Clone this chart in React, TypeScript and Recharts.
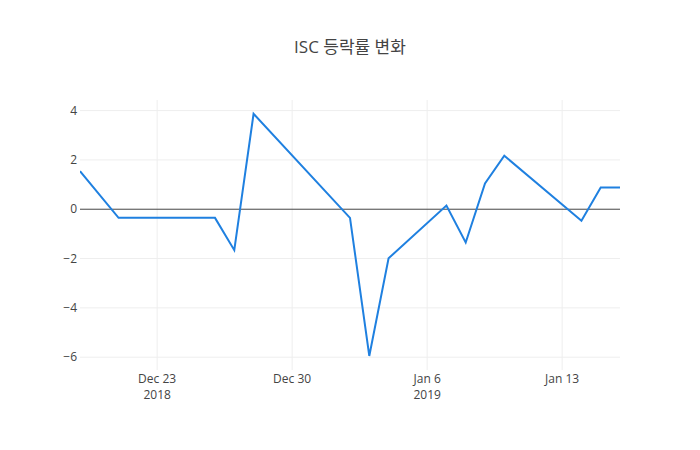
import { LineChart, Line, XAxis, YAxis, ReferenceLine } from 'recharts';

// trading days (yyyy-mm-dd) and daily change rate (%)
const dates = [
  '2018-12-19', '2018-12-21', '2018-12-26', '2018-12-27', '2018-12-28',
  '2019-01-02', '2019-01-03', '2019-01-04', '2019-01-07', '2019-01-08',
  '2019-01-09', '2019-01-10', '2019-01-14', '2019-01-15', '2019-01-16',
];
const rates = [
  1.54, -0.35, -0.35, -1.66, 3.87,
  -0.35, -5.95, -1.99, 0.15, -1.35,
  1.05, 2.17, -0.47, 0.88, 0.88,
];

const xTickDates = ['2018-12-23', '2018-12-30', '2019-01-06', '2019-01-13'];
const xTickLabels = [['Dec 23', '2018'], ['Dec 30'], ['Jan 6', '2019'], ['Jan 13']];
const yTicks = [-6, -4, -2, 0, 2, 4];

const toTime = (s: string) => {
  const [y, m, d] = s.split('-').map(Number);
  return Date.UTC(y, m - 1, d);
};

const data = dates.map((d, i) => ({ t: toTime(d), v: rates[i] }));
const xTicks = xTickDates.map(toTime);

const FONT = '"Open Sans", "Noto Sans CJK KR", sans-serif';

const XTick = (props: any) => {
  const { x, y, payload } = props;
  const idx = xTicks.indexOf(payload.value);
  const lines = idx >= 0 ? xTickLabels[idx] : [];
  return (
    <text x={x} y={y} textAnchor="middle" fill="#444" fontSize={12} fontFamily={FONT}>
      {lines.map((l, i) => (
        <tspan key={i} x={x} y={y + 13 + i * 15.5}>{l}</tspan>
      ))}
    </text>
  );
};

const fmtY = (v: number) => (v < 0 ? '\u2212' + Math.abs(v) : String(v));

export default function App() {
  return (
    <div style={{ position: 'absolute', left: 0, top: 0, width: 700, height: 450, background: '#fff' }}>
      <div
        style={{
          position: 'absolute', left: 0, top: 33, width: 700, textAlign: 'center',
          fontFamily: FONT, fontSize: 17, color: '#444',
        }}
      >
        ISC 등락률 변화
      </div>
      <LineChart width={700} height={450} data={data} margin={{ top: 100, right: 80, bottom: 50, left: 50 }}>
        <XAxis
          dataKey="t"
          type="number"
          scale="time"
          domain={[toTime('2018-12-19'), toTime('2019-01-16')]}
          ticks={xTicks}
          tick={<XTick />}
          axisLine={false}
          tickLine={false}
          tickSize={0}
          tickMargin={0}
          height={30}
          allowDataOverflow
        />
        <YAxis
          type="number"
          domain={[-6.52, 4.43]}
          ticks={yTicks}
          tickFormatter={fmtY}
          axisLine={false}
          tickLine={false}
          tickSize={0}
          tickMargin={3}
          width={30}
          allowDataOverflow
          tick={{ fill: '#444', fontSize: 12, fontFamily: FONT }}
        />
        {xTicks.map((t) => (
          <ReferenceLine key={'x' + t} x={t} stroke="#eee" strokeWidth={1} />
        ))}
        {yTicks.filter((v) => v !== 0).map((v) => (
          <ReferenceLine key={'y' + v} y={v} stroke="#eee" strokeWidth={1} />
        ))}
        <ReferenceLine y={0} stroke="#444" strokeWidth={1} />
        <Line
          type="linear"
          dataKey="v"
          stroke="#1f80e0"
          strokeWidth={2}
          dot={false}
          isAnimationActive={false}
        />
      </LineChart>
    </div>
  );
}
